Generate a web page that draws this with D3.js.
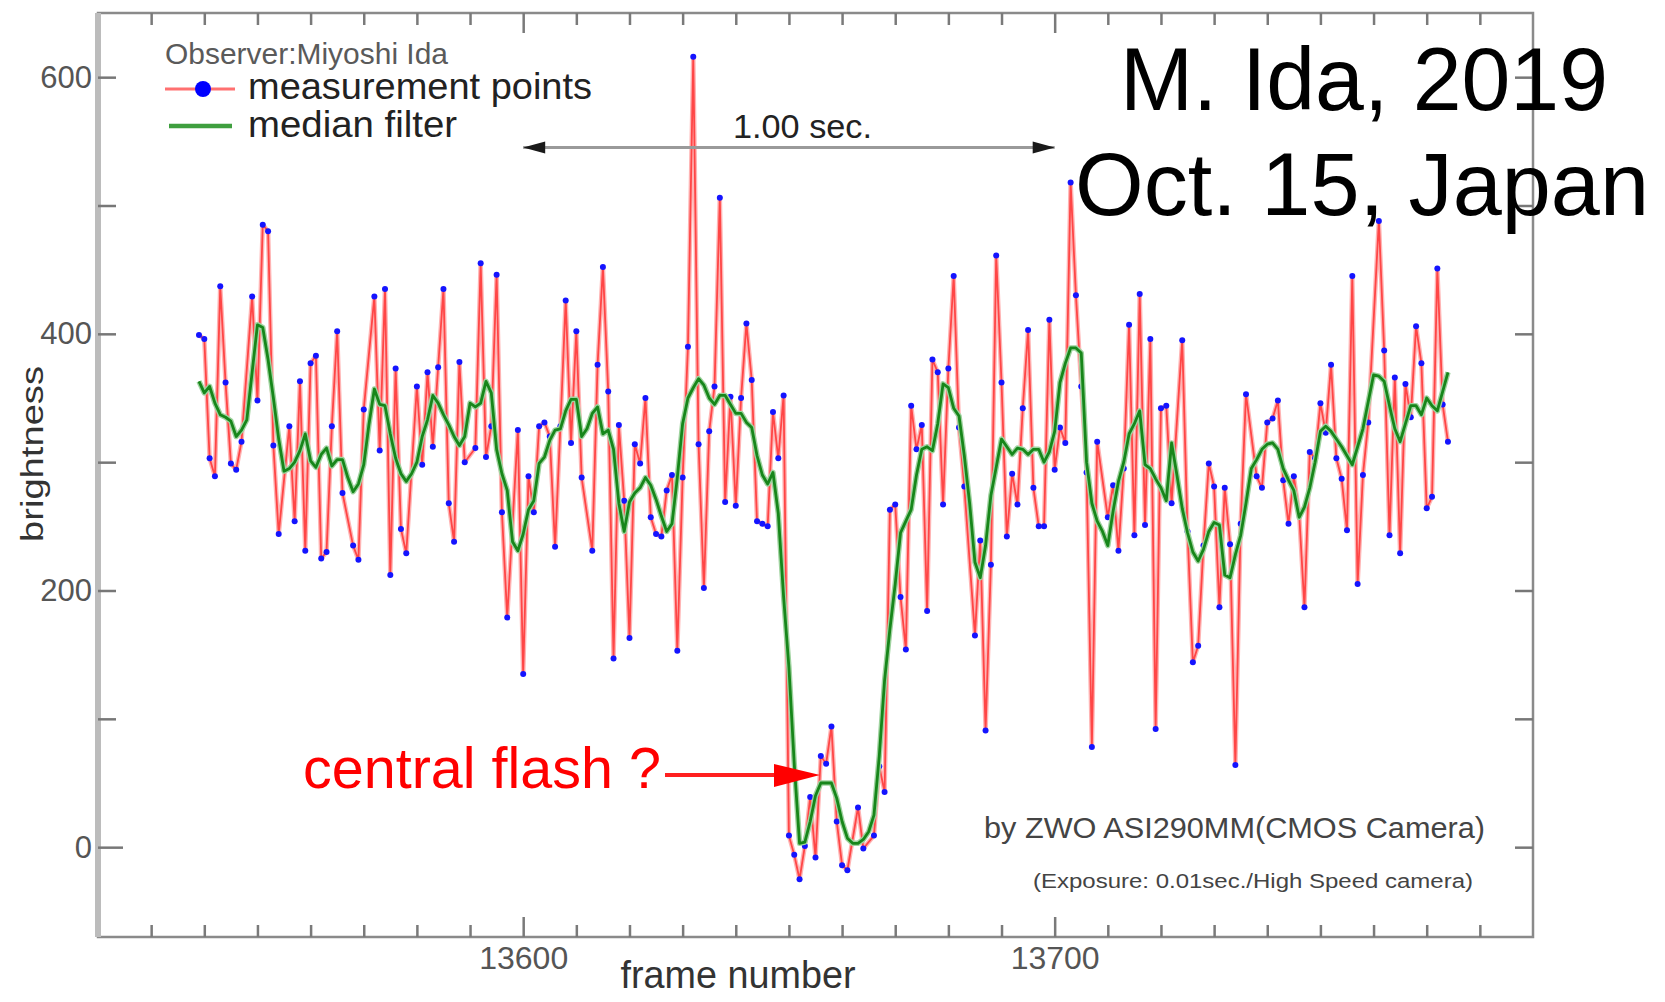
<!DOCTYPE html>
<html>
<head>
<meta charset="utf-8"/>
<title>brightness - frame number</title>
<script src="https://d3js.org/d3.v7.min.js" charset="utf-8"></script>
<style>
	body{margin:0;background:#fff;}
	svg{display:block;font-family:"Liberation Sans",Arial,sans-serif;}
</style>
</head>
<body>
<script>
// measurement points: [frame, brightness]
var measurement = [
	[13539,399],[13540,396],[13541,303],[13542,289],[13543,437],[13544,362],[13545,299],[13546,294],[13547,316],[13549,429],
	[13550,348],[13551,485],[13552,480],[13553,313],[13554,244],[13556,328],[13557,254],[13558,363],[13559,231],[13560,377],
	[13561,383],[13562,225],[13563,230],[13564,328],[13565,402],[13566,276],[13568,235],[13569,224],[13570,341],[13572,429],
	[13573,309],[13574,435],[13575,212],[13576,373],[13577,248],[13578,229],[13580,359],[13581,298],[13582,370],[13583,312],
	[13584,374],[13585,435],[13586,268],[13587,238],[13588,378],[13589,300],[13591,311],[13592,455],[13593,304],[13594,328],
	[13595,446],[13596,261],[13597,179],[13599,325],[13600,135],[13601,289],[13602,261],[13603,328],[13604,331],[13605,320],
	[13606,234],[13607,328],[13608,426],[13609,315],[13610,402],[13611,288],[13613,231],[13614,376],[13615,452],[13616,355],
	[13617,147],[13618,329],[13619,270],[13620,163],[13621,314],[13622,299],[13623,350],[13624,257],[13625,244],[13626,242],
	[13627,278],[13628,290],[13629,153],[13630,288],[13631,390],[13632,616],[13633,314],[13634,202],[13635,324],[13636,359],
	[13637,506],[13638,269],[13639,351],[13640,266],[13641,350],[13642,408],[13643,364],[13644,254],[13645,252],[13646,250],
	[13647,339],[13648,303],[13649,352],[13650,9],[13651,-6],[13652,-25],[13653,1],[13654,39],[13655,-8],[13656,71],
	[13657,65],[13658,94],[13659,20],[13660,-14],[13661,-18],[13663,31],[13664,-1],[13666,9],[13667,63],[13668,43],
	[13669,263],[13670,267],[13671,195],[13672,154],[13673,344],[13674,310],[13675,329],[13676,184],[13677,380],[13678,370],
	[13679,267],[13680,373],[13681,445],[13682,327],[13683,281],[13685,165],[13686,239],[13687,91],[13688,220],[13689,461],
	[13690,362],[13691,242],[13692,291],[13693,267],[13694,342],[13695,403],[13696,280],[13697,250],[13698,250],[13699,411],
	[13700,294],[13701,327],[13702,315],[13703,518],[13704,430],[13705,359],[13706,292],[13707,78],[13708,316],[13710,257],
	[13711,282],[13712,231],[13713,295],[13714,407],[13715,243],[13716,431],[13717,251],[13718,396],[13719,92],[13720,342],
	[13721,344],[13722,268],[13724,395],[13725,246],[13726,144],[13727,157],[13728,235],[13729,299],[13730,281],[13731,187],
	[13732,280],[13733,236],[13734,64],[13735,252],[13736,353],[13738,289],[13739,280],[13740,331],[13741,334],[13742,348],
	[13743,286],[13744,252],[13745,289],[13746,260],[13747,187],[13748,308],[13749,303],[13750,346],[13751,323],[13752,376],
	[13753,303],[13754,287],[13755,247],[13756,445],[13757,205],[13758,290],[13759,331],[13761,488],[13762,387],[13763,243],
	[13764,366],[13765,229],[13766,361],[13767,335],[13768,406],[13769,377],[13770,264],[13771,273],[13772,451],[13773,345],
	[13774,316]
];

// median filter, one value per frame from medianStart
var medianStart = 13539;
var median = [
	363,354,359,346,337,335,332,320,325,333,
	370,407,405,380,350,318,293,295,300,309,
	322,301,296,306,311,297,302,302,288,277,
	283,298,330,357,345,344,322,303,291,285,
	291,300,320,333,352,346,337,329,320,313,
	320,346,343,346,363,354,310,291,278,238,
	231,244,263,270,299,304,317,325,326,340,
	349,349,320,326,338,343,322,325,310,268,
	246,269,276,280,288,282,271,258,246,252,
	288,330,350,358,365,360,350,345,352,352,
	345,338,338,331,327,305,290,283,292,260,
	195,140,65,3,4,20,40,50,50,50,
	38,20,7,3,3,6,12,25,71,130,
	170,205,245,254,263,290,310,312,309,330,
	361,358,342,336,305,268,222,210,235,274,
	296,318,312,306,311,310,306,310,310,300,
	308,324,362,377,389,389,385,300,268,254,
	246,235,262,285,300,322,330,340,298,295,
	287,280,270,315,290,264,245,230,223,232,
	246,253,251,212,210,228,243,268,295,302,
	310,314,315,310,295,286,278,257,265,280,
	300,324,328,324,318,312,305,298,312,326,
	347,368,367,363,344,326,316,330,344,344,
	337,350,344,340,355,370
];

var xTicks = [13530,13540,13550,13560,13570,13580,13590,13600,13610,13620,13630,13640,13650,
	13660,13670,13680,13690,13700,13710,13720,13730,13740,13750,13760,13770,13780];
var xLabels = [13600,13700];
var yTicks = [0,100,200,300,400,500,600];
var yLabels = [0,200,400,600];
var secSpan = [13600,13700];   // 1.00 sec. (100 frames at 0.01 sec)

var W = 1665, H = 1002;
var L = 98, R = 1533, T = 13, B = 937;
var font = '"Liberation Sans",Arial,sans-serif';

var x = d3.scaleLinear().domain([13520,13790]).range([L,R]);
var y = d3.scaleLinear().domain([-70,650]).range([B,T]);

var svg = d3.select('body').append('svg')
	.attr('width',W)
	.attr('height',H);

// frame
svg.append('rect')
	.attr('x',L).attr('y',T)
	.attr('width',R-L).attr('height',B-T)
	.attr('fill','none')
	.attr('stroke','#8a8a8a')
	.attr('stroke-width',2.5);
svg.append('line')
	.attr('x1',L).attr('x2',L).attr('y1',T).attr('y2',B)
	.attr('stroke','#bcbcbc')
	.attr('stroke-width',6);

function isLabel(list){ return function(d){ return list.indexOf(d)>=0; }; }

// bottom axis
var gB = svg.append('g').attr('transform','translate(0,'+B+')')
	.call(d3.axisBottom(x).tickValues(xTicks).tickSize(-12).tickSizeOuter(0).tickPadding(9)
		.tickFormat(function(d){ return isLabel(xLabels)(d) ? String(d) : ''; }));
gB.select('.domain').remove();
gB.selectAll('.tick line').attr('stroke','#7a7a7a').attr('stroke-width',2.5)
	.attr('y2',function(d){ return isLabel(xLabels)(d) ? -20 : -12; });
gB.selectAll('.tick text').attr('font-size',32).attr('font-family',font).attr('fill','#555');

// top axis
var gT = svg.append('g').attr('transform','translate(0,'+T+')')
	.call(d3.axisTop(x).tickValues(xTicks).tickSize(-12).tickSizeOuter(0).tickFormat(''));
gT.select('.domain').remove();
gT.selectAll('.tick line').attr('stroke','#7a7a7a').attr('stroke-width',2.5)
	.attr('y2',function(d){ return isLabel(xLabels)(d) ? 20 : 12; });

// left axis
var gL = svg.append('g').attr('transform','translate('+L+',0)')
	.call(d3.axisLeft(y).tickValues(yTicks).tickSize(-18).tickSizeOuter(0).tickPadding(6)
		.tickFormat(function(d){ return isLabel(yLabels)(d) ? String(d) : ''; }));
gL.select('.domain').remove();
gL.selectAll('.tick line').attr('stroke','#777').attr('stroke-width',2.5)
	.attr('x2',function(d){ return d===0 ? 25 : 18; });
gL.selectAll('.tick text').attr('font-size',31).attr('font-family',font).attr('fill','#555');

// right axis
var gR = svg.append('g').attr('transform','translate('+R+',0)')
	.call(d3.axisRight(y).tickValues(yTicks).tickSize(-18).tickSizeOuter(0).tickFormat(''));
gR.select('.domain').remove();
gR.selectAll('.tick line').attr('stroke','#777').attr('stroke-width',2.5);

// axis titles
svg.append('text')
	.attr('transform','translate(43,454) rotate(-90)')
	.attr('text-anchor','middle')
	.attr('font-size',31).attr('fill','#333')
	.attr('textLength',176).attr('lengthAdjust','spacingAndGlyphs')
	.text('brightness');
svg.append('text')
	.attr('x',738).attr('y',988)
	.attr('text-anchor','middle')
	.attr('font-size',38).attr('fill','#333')
	.attr('textLength',235).attr('lengthAdjust','spacingAndGlyphs')
	.text('frame number');

// measurement line + points (soft pink halo under a red core, like the blurred original)
var line = d3.line()
	.x(function(d){ return x(d[0]); })
	.y(function(d){ return y(d[1]); });

svg.append('path')
	.datum(measurement)
	.attr('d',line)
	.attr('fill','none')
	.attr('stroke','#ffb4b4')
	.attr('stroke-width',4.5)
	.attr('stroke-linejoin','round');
svg.append('path')
	.datum(measurement)
	.attr('d',line)
	.attr('fill','none')
	.attr('stroke','#ff4646')
	.attr('stroke-width',1.8)
	.attr('stroke-linejoin','round');

svg.selectAll('circle.pt').data(measurement)
	.enter().append('circle')
	.attr('class','pt')
	.attr('cx',function(d){ return x(d[0]); })
	.attr('cy',function(d){ return y(d[1]); })
	.attr('r',3)
	.attr('fill','#1414ff');

// median filter
var medianLine = d3.line()
	.x(function(d,i){ return x(medianStart+i); })
	.y(function(d){ return y(d); });

svg.append('path')
	.datum(median)
	.attr('d',medianLine)
	.attr('fill','none')
	.attr('stroke','#9fd39f')
	.attr('stroke-width',5.5)
	.attr('stroke-linejoin','round');
svg.append('path')
	.datum(median)
	.attr('d',medianLine)
	.attr('fill','none')
	.attr('stroke','#17861a')
	.attr('stroke-width',2.8)
	.attr('stroke-linejoin','round');

// legend
svg.append('text').attr('x',165).attr('y',64)
	.attr('font-size',30).attr('fill','#5a5a5a')
	.attr('textLength',283).attr('lengthAdjust','spacingAndGlyphs')
	.text('Observer:Miyoshi Ida');
svg.append('line').attr('x1',165).attr('x2',235).attr('y1',89).attr('y2',89)
	.attr('stroke','#ff7070').attr('stroke-width',3);
svg.append('circle').attr('cx',203).attr('cy',89).attr('r',8).attr('fill','#0000ff');
svg.append('text').attr('x',248).attr('y',99)
	.attr('font-size',37).attr('fill','#222')
	.attr('textLength',344).attr('lengthAdjust','spacingAndGlyphs')
	.text('measurement points');
svg.append('line').attr('x1',169).attr('x2',232).attr('y1',126).attr('y2',126)
	.attr('stroke','#3f9f3f').attr('stroke-width',4.5);
svg.append('text').attr('x',248).attr('y',137)
	.attr('font-size',37).attr('fill','#222')
	.attr('textLength',209).attr('lengthAdjust','spacingAndGlyphs')
	.text('median filter');

// 1.00 sec. span arrow
var ay = 147.5;
svg.append('line')
	.attr('x1',x(secSpan[0])).attr('x2',x(secSpan[1]))
	.attr('y1',ay).attr('y2',ay)
	.attr('stroke','#9a9a9a').attr('stroke-width',3);
svg.append('path')
	.attr('d','M'+x(secSpan[0])+','+ay+' l22,-6 l0,12 Z')
	.attr('fill','#1a1a1a');
svg.append('path')
	.attr('d','M'+x(secSpan[1])+','+ay+' l-22,-6 l0,12 Z')
	.attr('fill','#1a1a1a');
svg.append('text').attr('x',733).attr('y',138)
	.attr('font-size',34).attr('fill','#222')
	.attr('textLength',139).attr('lengthAdjust','spacingAndGlyphs')
	.text('1.00 sec.');

// central flash annotation
svg.append('text').attr('x',303).attr('y',788)
	.attr('font-size',58).attr('fill','#ff0000')
	.attr('textLength',358).attr('lengthAdjust','spacingAndGlyphs')
	.text('central flash ?');
svg.append('line').attr('x1',665).attr('x2',778).attr('y1',775).attr('y2',775)
	.attr('stroke','#ff2020').attr('stroke-width',4);
svg.append('path').attr('d','M774,764 L820,775 L774,787 Z').attr('fill','#ff0000');

// camera notes
svg.append('text').attr('x',984).attr('y',838)
	.attr('font-size',29).attr('fill','#444')
	.attr('textLength',501).attr('lengthAdjust','spacingAndGlyphs')
	.text('by ZWO ASI290MM(CMOS Camera)');
svg.append('text').attr('x',1033).attr('y',888)
	.attr('font-size',20).attr('fill','#444')
	.attr('textLength',440).attr('lengthAdjust','spacingAndGlyphs')
	.text('(Exposure: 0.01sec./High Speed camera)');

// title
svg.append('text').attr('x',1364).attr('y',110)
	.attr('text-anchor','middle')
	.attr('font-size',89).attr('fill','#000')
	.attr('textLength',488).attr('lengthAdjust','spacingAndGlyphs')
	.text('M. Ida, 2019');
svg.append('text').attr('x',1362).attr('y',215)
	.attr('text-anchor','middle')
	.attr('font-size',89).attr('fill','#000')
	.attr('textLength',574).attr('lengthAdjust','spacingAndGlyphs')
	.text('Oct. 15, Japan');
</script>
</body>
</html>
